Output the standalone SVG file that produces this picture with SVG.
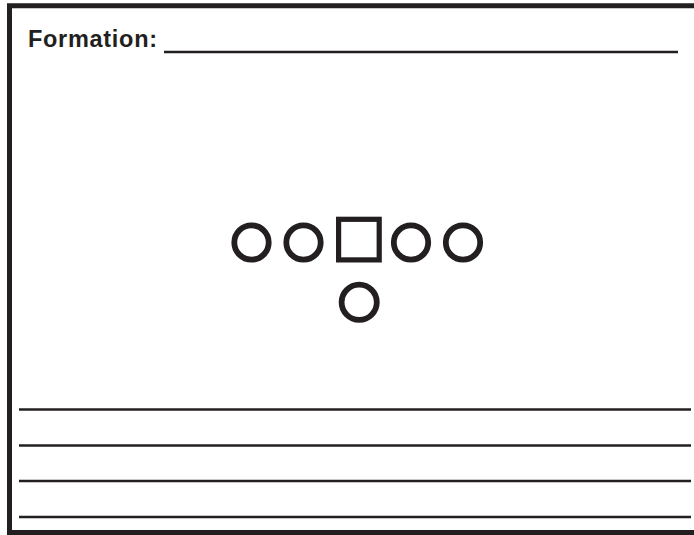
<svg xmlns="http://www.w3.org/2000/svg" width="694" height="535" viewBox="0 0 694 535">
<style>
.frame{fill:none;stroke:#231f20;stroke-width:5}
.rule{stroke:#231f20;stroke-width:2.6}
.p{fill:none;stroke:#231f20;stroke-width:5.8}
.sq{fill:none;stroke:#231f20;stroke-width:5.2}
.t{font-family:"Liberation Sans",Arial,sans-serif;font-weight:bold;font-size:23.5px;fill:#231f20;letter-spacing:0.7px}
</style>
<rect width="694" height="535" fill="#fff"/>
<path class="frame" d="M694,5.7 H9.5 V532.5 H694"/>
<g id="title">
<text class="t" x="28" y="46.7">Formation:</text>
<line class="rule" x1="164" y1="52" x2="678" y2="52"/>
</g>
<g id="players">
<g id="p1"><circle class="p" cx="251.5" cy="242.5" r="17.2"/></g>
<g id="p2"><circle class="p" cx="303.5" cy="242.5" r="17.2"/></g>
<g id="center"><rect class="sq" x="338.6" y="219.3" width="40.6" height="40.6"/></g>
<g id="p4"><circle class="p" cx="411" cy="242.5" r="17.2"/></g>
<g id="p5"><circle class="p" cx="463" cy="242.5" r="17.2"/></g>
<g id="qb"><circle class="p" cx="359.2" cy="302.3" r="17.6"/></g>
</g>
<g id="notes">
<line class="rule" x1="19" y1="409.5" x2="691" y2="409.5"/>
<line class="rule" x1="19" y1="445.5" x2="691" y2="445.5"/>
<line class="rule" x1="19" y1="481" x2="691" y2="481"/>
<line class="rule" x1="19" y1="517" x2="691" y2="517"/>
</g>
</svg>
